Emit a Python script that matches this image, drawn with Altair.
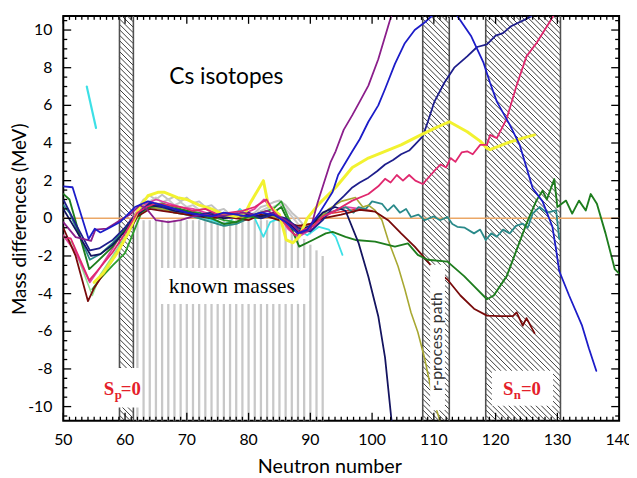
import altair as alt
import numpy as np
import pandas as pd

W, H = 563, 410
X0, X1 = 50, 140
Y0, Y1 = -10.75, 10.75

X_TICKS = [50, 60, 70, 80, 90, 100, 110, 120, 130, 140]
Y_TICKS = [-10, -8, -6, -4, -2, 0, 2, 4, 6, 8, 10]
X_MINOR = [v for v in range(50, 141) if v % 10]
Y_MINOR = [v / 2 for v in range(-21, 22) if v % 4]
X_TITLE = "Neutron number"
Y_TITLE = "Mass differences (MeV)"

# hatched bands (Sp=0, r-process path, Sn=0)
BAND_X1 = [59.1, 108.2, 118.4]
BAND_X2 = [61.35, 112.5, 130.5]

# "known masses" stripes
STRIPE_X = list(range(62, 93))
STRIPE_TOP = [-0.1] * 25 + [-0.5, -0.9, -1.1, -1.4, -1.7, -2.0]

# white label boxes
BOX_X1 = [65.8, 54.9, 109.4, 119.4]
BOX_X2 = [89.3, 62.6, 111.8, 129.3]
BOX_Y1 = [-2.64, -7.95, -2.46, -8.1]
BOX_Y2 = [-4.55, -10.05, -10.2, -9.95]

# series (neutron number, mass difference)
GRAY1 = [(62,0.5),(63,1.0),(64,1.2),(65,1.0),(66,1.25),(67,1.0),(68,1.15),(69,0.9),(70,1.1),(71,0.8),(72,0.9),(73,0.6),(74,0.7),(75,0.4),(76,0.5),(77,0.2),(78,0.3),(79,0.0),(80,0.15),(81,0.3),(82,0.6),(83,0.7),(84,0.85),(85,0.95),(86,0.7),(87,0.3),(88,0.0),(89,-0.4),(90,-0.7)]
GRAY2 = [(62,0.3),(63,0.8),(64,0.9),(65,1.1),(66,0.85),(67,1.0),(68,0.7),(69,0.85),(70,0.6),(71,0.7),(72,0.45),(73,0.55),(74,0.3),(75,0.4),(76,0.1),(77,0.2),(78,0.0),(79,0.1),(80,-0.1),(81,0.2),(82,0.4),(83,0.55),(84,0.6),(85,0.75),(86,0.5),(87,0.1),(88,-0.3),(89,-0.6),(90,-0.8)]
BLUE = [(50,1.7),(51.5,1.65),(54.1,-1.1),(55.1,-0.55),(56,-0.75),(57.5,-0.5),(59.2,-0.2),(61.6,0.6),(63.7,0.9),(66,0.7),(68,0.5),(70,0.3),(72,0.2),(74,0.1),(76,0.3),(78,0.2),(80,0.1),(82,0.3),(84,0.2),(86,-0.2),(88,-0.8),(89.5,-0.6),(91.4,0.25),(93.6,1.4),(94.5,2.3),(96.8,3.56),(98,4.2),(99.4,5.13),(101,6.0),(102.1,6.87),(103.7,8.2),(105.3,9.3),(106.9,10.0),(108.5,10.4),(109.7,10.75),(111.7,11.6),(113.8,10.75),(116,9.7),(118,8.3),(119.1,7.2),(120.2,6.2),(122.3,4.96),(123.9,3.9),(125,2.7),(126,1.6),(127.6,0.9),(129.2,-0.45),(129.8,-1.68),(130.3,-2.8),(131.9,-4.1),(134,-5.7),(135.1,-6.9),(136.3,-8.1)]
PURPLE = [(50,-0.2),(52,-1.0),(54.5,-1.2),(55.2,-0.6),(57,-0.55),(59.2,-0.1),(60.8,0.2),(62.4,0.7),(63.5,0.5),(65,-0.1),(67,-0.2),(69,-0.1),(71,0.1),(73,0.2),(75,0.1),(77,0.2),(79,0.3),(81,0.2),(83,0.4),(85,0.1),(87,-0.3),(88.5,-0.8),(90,-0.6),(91.2,0.85),(93.3,3.0),(94.1,3.56),(95.4,4.7),(96.8,5.48),(98,6.2),(99.4,7.05),(101,8.45),(102.6,10.2),(103.6,11.3)]
NAVY = [(50,1.0),(52,-0.3),(54.3,-1.7),(55.8,-1.6),(58,-1.15),(60,-0.5),(62,0.3),(64,0.8),(66,0.6),(68,0.5),(70,0.3),(72,0.2),(74,0.3),(76,0.1),(78,0.2),(80,0.3),(82,0.0),(84,0.2),(86,0.0),(88,-0.5),(90,-0.7),(92,-0.1),(94.1,0.77),(95.5,1.2),(96.8,1.64),(98,1.9),(99.4,2.16),(100.8,2.5),(102.1,2.86),(103.4,3.1),(104.7,3.4),(106,3.6),(106.9,3.9),(108.2,4.35),(109,5.1),(110.1,6.2),(111.7,7.2),(113.3,8.0),(115.4,8.6),(117,9.1),(118.6,9.24),(120,9.7),(121.2,9.84),(122.5,10.2),(124.4,10.5),(126.8,10.9)]
NAVY2 = [(50,0.5),(52,-0.6),(54.5,-2.0),(56,-1.9),(58,-1.4),(60,-0.7),(62,0.2),(64,0.7),(66,0.6),(68,0.4),(70,0.3),(72,0.1),(74,0.2),(76,0.0),(78,0.1),(80,0.2),(82,0.1),(84,0.3),(86,-0.1),(88,-0.7),(90,-0.4),(92,0.3),(94,0.6),(95.7,0.4),(97.8,-1.3),(99.4,-3.1),(101,-5.2),(102.1,-7.4),(103.2,-10.9)]
YELLOW = [(55,-3.4),(56.5,-2.9),(58.7,-1.85),(60.5,-0.8),(62.1,0.42),(63.7,1.2),(65.3,1.38),(66.4,1.38),(68.5,1.1),(70,1.0),(72,0.7),(74,0.5),(76,0.2),(78,0.1),(79.5,0.3),(80.2,0.77),(82.4,2.0),(83.2,0.68),(85,0.2),(86.1,-1.15),(87.2,-1.3),(88.2,-0.98),(89.5,0.0),(91.4,0.77),(94.1,1.64),(96.8,2.7),(99.4,3.2),(102.1,3.56),(104.7,3.9),(107.9,4.43),(110.1,4.78),(112.5,5.13),(115.4,4.6),(117.5,4.1),(118.6,3.73),(119.1,3.65),(121.8,4.0),(124.4,4.26),(126.3,4.43)]
CRIMSON = [(50,-1.0),(51.2,-1.06),(54.2,-3.3),(55.5,-2.8),(58,-1.8),(60,-0.8),(62,0.3),(63.5,0.6),(65,0.8),(67,0.7),(69,0.6),(71,0.4),(73,0.5),(75,0.2),(77,0.3),(79,0.4),(81,0.6),(82.9,1.0),(84,0.4),(86,-0.3),(87.5,-0.9),(89,-0.6),(90.5,-0.4),(92,0.1),(94.1,0.42),(96.8,0.94),(99.4,1.29),(101,1.7),(102.1,2.1),(103,1.9),(104,2.3),(105,2.0),(106,2.3),(107,2.0),(108.2,1.82),(109.5,2.3),(110.3,2.6),(111.1,2.86),(112,2.7),(112.7,3.2),(113.5,3.0),(114.5,3.5),(115.4,3.56),(116.3,3.4),(117.5,3.9),(118.6,3.9),(119.1,4.43),(120.2,4.26),(121.8,5.3),(123.4,7.05),(125,8.6),(126.6,9.3),(128.7,10.4),(129.8,11.0)]
TEAL = [(50,0.7),(51,0.3),(54.3,-2.2),(56,-1.9),(58,-1.3),(60,-0.5),(62,0.3),(64,0.6),(66,0.5),(68,0.3),(70,0.2),(72,0.0),(74,-0.2),(76,-0.4),(78,-0.3),(80,0.0),(82,0.1),(84,0.2),(86,-0.2),(88,-0.6),(90,-0.4),(92.5,0.25),(94,0.4),(95.7,0.6),(97,0.3),(97.8,0.6),(99,0.5),(100,0.9),(101.6,0.77),(102.5,0.4),(103.5,0.7),(104.5,0.3),(105.5,0.5),(106.3,0.07),(107.5,0.2),(108.5,-0.1),(110,0.1),(111,-0.1),(112.2,0.07),(113,-0.3),(113.8,-0.45),(115,-0.5),(116.5,-0.8),(117.5,-0.6),(118.4,-1.15),(119.3,-0.8),(120.2,-0.98),(121.2,-0.6),(122.3,-0.8),(123.3,-0.4),(124.4,-0.28),(125.2,-0.5),(126,0.25),(127.1,0.6),(128.3,0.3),(129.8,0.42),(130.3,-1.1)]
GREEN = [(50,1.3),(51,1.0),(54.2,-2.7),(55.5,-2.3),(58,-1.5),(60,-0.6),(62,0.2),(64,0.6),(66,0.7),(68,0.5),(70,0.4),(72,0.2),(74,0.0),(76,-0.3),(78,-0.2),(80,0.1),(82,0.0),(84,0.3),(85.3,0.6),(86.5,-0.2),(88.2,-1.5),(90.4,-1.15),(92.5,-0.8),(93.6,-0.72),(95.7,-0.98),(97.3,-1.15),(100.5,-1.24),(103.7,-1.5),(105.8,-1.33),(107.4,-1.94),(109,-2.2),(112.2,-2.3),(114.9,-3.07),(116.5,-3.6),(118.6,-4.3),(119.7,-4.1),(121.8,-3.07),(123.4,-1.68),(125,-0.28),(126.6,0.94),(127.6,1.47),(128.3,1.0),(129.5,2.08),(130,0.6),(131.4,0.94),(132.4,0.25),(133.5,0.94),(134.6,0.42),(135.4,1.29),(136.4,0.77),(137.8,-0.8),(139.3,-2.7),(140.4,-3.07)]
MAROON = [(50,-0.5),(52,-2.0),(54,-4.4),(55,-3.7),(56,-3.2),(58,-2.2),(60,-1.1),(62,0.1),(64,0.5),(66,0.4),(68,0.3),(70,0.2),(72,0.1),(74,0.0),(76,0.1),(78,0.0),(80,-0.1),(82,0.2),(84,0.0),(86,-0.2),(88,-0.4),(90,-0.3),(92,0.0),(95,0.2),(98,0.45),(100.5,0.35),(102.6,-0.1),(104.7,-0.8),(106.9,-1.5),(108.5,-2.1),(110.1,-2.72),(112.2,-3.25),(114.3,-4.1),(116.5,-4.8),(118.6,-5.17),(120.7,-5.2),(122.8,-5.2),(123.4,-5.0),(124.4,-5.7),(125,-5.3),(126.3,-6.1)]
OLIVE = [(62,0.3),(64,0.6),(66,0.5),(68,0.3),(70,0.2),(72,0.1),(74,0.2),(76,0.0),(78,0.1),(80,0.0),(82,0.2),(84,0.1),(86,-0.3),(88,-0.8),(90,-0.5),(93,0.5),(95,0.9),(97.3,1.1),(98.5,0.6),(99.4,0.7),(100.5,0.42),(101.6,-0.1),(102.6,-1.15),(104.2,-2.55),(105.3,-3.77),(106.3,-5.0),(107.4,-6.04),(108.5,-7.43),(109.5,-9.0),(110.2,-9.9),(111.1,-10.9)]
CYAN = [(58,-1.4),(60,-0.6),(62,0.2),(64,0.6),(66,0.5),(68,0.4),(70,0.2),(72,0.1),(74,-0.1),(76,-0.3),(77,-0.2),(78.6,0.5),(80,0.1),(81,0.0),(82.4,-0.98),(83.5,-0.2),(85,0.0),(86.1,-0.1),(88,-0.6),(89.5,-0.9),(91.4,-0.45),(93,-0.6),(94.1,-0.98),(95.2,-1.94)]
CYAN_SEG = [(53.8,7.0),(55.3,4.8)]
LIGHTGREEN = [(50,-1.0),(51.5,-1.33),(54.7,-4.1),(56,-3.0),(58,-2.0),(60.5,-0.7),(62.5,0.3),(64,0.7),(66,0.6),(68,0.4),(70,0.3),(72,0.0),(74,-0.2),(76,-0.4),(78,-0.3),(80,0.0),(82,0.1),(84,0.0),(86,-0.3),(88,-0.8),(90,-0.6)]
GREEN2 = [(54.7,-3.77),(56,-3.2),(58,-2.5),(60,-1.85),(62.9,0.5),(64,0.7),(66,0.8),(68,0.6),(70,0.4),(72,0.3),(74,0.1),(76,-0.1),(78,-0.2),(80,0.1),(82,0.3),(84,0.5),(85.3,0.9),(86.5,0.0),(88,-0.9),(90,-0.5),(92,0.2)]
PINK = [(50,-0.9),(52,-1.8),(54.3,-3.4),(56,-2.6),(58,-1.6),(60,-0.5),(62,0.4),(63,0.7),(65,1.0),(67,0.8),(69,0.6),(71,0.5),(73,0.3),(75,0.1),(77,0.0),(79,0.2),(81,0.5),(82.5,1.0),(83.5,0.6),(85,0.1),(86.5,-0.6),(88,-1.0),(89,-0.8),(90.5,-0.5),(92,0.0),(94,0.4),(96,0.6),(98,0.5)]
RED = [(60,-0.7),(62,0.2),(64,0.6),(66,0.7),(68,0.5),(70,0.4),(72,0.2),(74,0.1),(76,0.1),(78,0.0),(80,0.1),(82,0.2),(84,0.1),(86,-0.1),(88,-0.5),(90,-0.3),(92,0.2),(94,0.3),(96,0.4),(98,0.5),(100,0.4)]

SERIES = [
    (GRAY1, "#C2C2C2", 2.0), (GRAY2, "#C8C8C8", 2.0),
    (LIGHTGREEN, "#90E090", 1.6), (RED, "#E03030", 1.6), (CYAN, "#3CE0E6", 1.8),
    (GREEN2, "#2E9E2E", 1.8), (PINK, "#E040A0", 1.8), (TEAL, "#2A8A8A", 1.8),
    (OLIVE, "#A8A832", 1.6), (MAROON, "#780A0A", 1.8), (GREEN, "#1E7D1E", 1.9),
    (NAVY2, "#141460", 1.8), (NAVY, "#1E1E8C", 1.8), (YELLOW, "#F2F230", 3.0),
    (CRIMSON, "#E0286E", 1.8), (PURPLE, "#8B1E8B", 1.8), (BLUE, "#1C1CC8", 1.8),
    (CYAN_SEG, "#3CE0E6", 2.2),
]

xs = alt.Scale(domain=[X0, X1], nice=False, zero=False)
ys = alt.Scale(domain=[Y0, Y1], nice=False, zero=False)


def X(f):
    return alt.X(f, type="quantitative", scale=xs, axis=None)


def Y(f):
    return alt.Y(f, type="quantitative", scale=ys, axis=None)


layers = []

# stripes
stripes = pd.DataFrame({"x": STRIPE_X, "y": [Y0] * len(STRIPE_X), "y2": STRIPE_TOP})
layers.append(alt.Chart(stripes).mark_rule(color="#C8C8C8", strokeWidth=2.3)
              .encode(x=X("x"), y=Y("y"), y2="y2"))

# hatching
segs = []
for xa, xb in zip(BAND_X1, BAND_X2):
    pa = (xa - X0) * W / (X1 - X0)
    pb = (xb - X0) * W / (X1 - X0)
    for c in np.arange(pa - H, pb, 5.5):
        t0 = max(0.0, pa - c)
        t1 = min(float(H), pb - c)
        if t1 > t0:
            segs.append({
                "x": X0 + (c + t0) * (X1 - X0) / W, "y": Y1 - t0 * (Y1 - Y0) / H,
                "x2": X0 + (c + t1) * (X1 - X0) / W, "y2": Y1 - t1 * (Y1 - Y0) / H,
            })
layers.append(alt.Chart(pd.DataFrame(segs)).mark_rule(color="#3A3A3A", strokeWidth=1)
              .encode(x=X("x"), y=Y("y"), x2="x2", y2="y2"))

edges = pd.DataFrame({"x": BAND_X1 + BAND_X2})
layers.append(alt.Chart(edges).mark_rule(color="#505050", strokeWidth=1.6)
              .encode(x=X("x"), y=alt.value(0), y2=alt.value(H)))

# zero line
zero = pd.DataFrame({"x": [X0], "x2": [X1], "y": [0]})
layers.append(alt.Chart(zero).mark_rule(color="#EBA766", strokeWidth=1.5)
              .encode(x=X("x"), x2="x2", y=Y("y")))

# data lines
for pts, col, sw in SERIES:
    df = pd.DataFrame(pts, columns=["x", "y"])
    layers.append(alt.Chart(df).mark_line(color=col, strokeWidth=sw, clip=True,
                                          strokeJoin="round", strokeCap="round")
                  .encode(x=X("x"), y=Y("y")))

# white boxes
boxes = pd.DataFrame({"x": BOX_X1, "x2": BOX_X2, "y": BOX_Y1, "y2": BOX_Y2})
layers.append(alt.Chart(boxes).mark_rect(color="white")
              .encode(x=X("x"), x2="x2", y=Y("y"), y2="y2"))


def txt(df, **kw):
    return alt.Chart(pd.DataFrame(df)).mark_text(**kw).encode(x=X("x"), y=Y("y"), text="t:N")


layers.append(txt({"x": [76.4], "y": [7.5], "t": ["Cs isotopes"]},
                  font="Lato", fontSize=23, color="black", align="center", baseline="middle"))
layers.append(txt({"x": [77.3], "y": [-3.6], "t": ["known masses"]},
                  font="Liberation Serif", fontSize=22, color="black", align="center", baseline="middle"))
layers.append(txt({"x": [110.45], "y": [-6.55], "t": ["r-process path"]},
                  font="Lato", fontSize=16, color="#333333", align="center", baseline="middle", angle=270))
RED_TXT = "#E4202A"
layers.append(txt({"x": [56.55, 121.2], "y": [-9.39, -9.39], "t": ["S", "S"]},
                  font="Liberation Serif", fontSize=19, fontWeight="bold", color=RED_TXT,
                  align="left", baseline="alphabetic"))
layers.append(txt({"x": [58.35, 122.95], "y": [-9.6, -9.6], "t": ["p", "n"]},
                  font="Liberation Serif", fontSize=13, fontWeight="bold", color=RED_TXT,
                  align="left", baseline="alphabetic"))
layers.append(txt({"x": [59.3, 124.1], "y": [-9.39, -9.39], "t": ["=0", "=0"]},
                  font="Liberation Serif", fontSize=19, fontWeight="bold", color=RED_TXT,
                  align="left", baseline="alphabetic"))

# inward ticks on all four sides
xmaj = pd.DataFrame({"v": X_TICKS, "t": [str(v) for v in X_TICKS]})
xmin = pd.DataFrame({"v": X_MINOR})
ymaj = pd.DataFrame({"v": Y_TICKS, "t": [str(v) for v in Y_TICKS]})
ymin = pd.DataFrame({"v": Y_MINOR})
for df, L in ((xmaj, 8), (xmin, 4)):
    layers.append(alt.Chart(df).mark_rule(color="black", strokeWidth=1.3)
                  .encode(x=X("v"), y=alt.value(H), y2=alt.value(H - L)))
    layers.append(alt.Chart(df).mark_rule(color="black", strokeWidth=1.3)
                  .encode(x=X("v"), y=alt.value(0), y2=alt.value(L)))
for df, L in ((ymaj, 8), (ymin, 4)):
    layers.append(alt.Chart(df).mark_rule(color="black", strokeWidth=1.3)
                  .encode(y=Y("v"), x=alt.value(0), x2=alt.value(L)))
    layers.append(alt.Chart(df).mark_rule(color="black", strokeWidth=1.3)
                  .encode(y=Y("v"), x=alt.value(W), x2=alt.value(W - L)))

# tick labels and axis titles
layers.append(alt.Chart(xmaj).mark_text(font="Lato", fontSize=16, color="black",
                                        align="center", baseline="middle")
              .encode(x=X("v"), y=alt.value(H + 20), text="t:N"))
layers.append(alt.Chart(ymaj).mark_text(font="Lato", fontSize=16, color="black",
                                        align="right", baseline="middle")
              .encode(y=Y("v"), x=alt.value(-11), text="t:N"))
layers.append(alt.Chart(pd.DataFrame({"t": [X_TITLE]})).mark_text(
    font="Lato", fontSize=20, color="black", align="center", baseline="alphabetic")
    .encode(x=alt.value(270), y=alt.value(H + 53), text="t:N"))
layers.append(alt.Chart(pd.DataFrame({"t": [Y_TITLE]})).mark_text(
    font="Lato", fontSize=19, color="black", align="center", baseline="middle", angle=270)
    .encode(x=alt.value(-44), y=alt.value(H / 2 + 1), text="t:N"))

chart = alt.layer(*layers).properties(
    width=W, height=H,
    autosize=alt.AutoSizeParams(type="none"),
    padding={"left": 56, "top": 5, "right": 10, "bottom": 55},
    background="white",
).configure_view(stroke="black", strokeWidth=2)

chart.save("out.html", embed_options={"renderer": "svg", "actions": False})
